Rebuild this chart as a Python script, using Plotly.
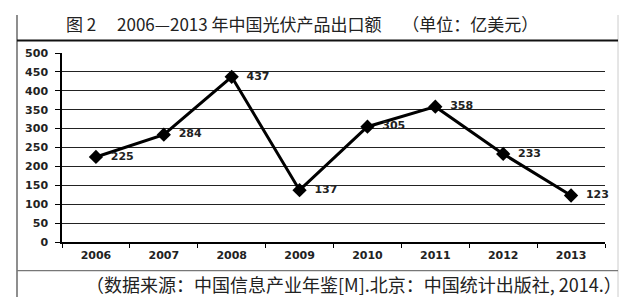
import plotly.graph_objects as go

years = ["2006", "2007", "2008", "2009", "2010", "2011", "2012", "2013"]
values = [225, 284, 437, 137, 305, 358, 233, 123]
y_ticks = [0, 50, 100, 150, 200, 250, 300, 350, 400, 450, 500]
title_text = "图 2\u2003 2006—2013 年中国光伏产品出口额 \u2003（单位：亿美元）"
source_text = "（数据来源：中国信息产业年鉴[M].北京：中国统计出版社, 2014.）"

W, H = 640, 297
L, R, T, B = 62, 35, 53, 55
pw, ph = W - L - R, H - T - B

def px(x):
    return (x - L) / pw

def py(y):
    return (H - B - y) / ph

fig = go.Figure()
fig.add_trace(go.Scatter(
    x=years, y=values, mode="lines+markers+text",
    line=dict(color="black", width=3),
    marker=dict(symbol="diamond", size=11, color="black"),
    text=[str(v) for v in values], textposition="middle right",
    textfont=dict(family="DejaVu Sans", size=11, color="#222"),
    texttemplate="\u00a0\u00a0<b>%{text}</b>",
    cliponaxis=False,
))

fig.update_layout(
    width=W, height=H, margin=dict(l=L, r=R, t=T, b=B),
    paper_bgcolor="white", plot_bgcolor="white", showlegend=False,
    xaxis=dict(type="category", range=[-0.5, 7.5], showgrid=False,
               showline=True, linecolor="black", linewidth=1.5,
               ticks="outside", tickson="boundaries", ticklen=4, tickcolor="black",
               tickfont=dict(family="DejaVu Sans", size=11, color="#222"),
               tickvals=years, ticktext=["<b>%s</b>" % y for y in years],
               ticklabelstandoff=2),
    yaxis=dict(range=[0, 500], tickmode="array", tickvals=y_ticks,
               ticktext=["<b>%d</b>" % v for v in y_ticks], showgrid=True,
               gridcolor="#222", gridwidth=1.3,
               showline=True, linecolor="black", linewidth=1.5,
               ticks="outside", ticklen=5, tickcolor="black",
               tickfont=dict(family="DejaVu Sans", size=11, color="#222"),
               ticklabelstandoff=5, zeroline=False),
)

shapes = [
    dict(type="line", xref="paper", yref="paper", x0=px(17), x1=px(17), y0=py(15), y1=py(297),
         line=dict(color="#444", width=1.2)),
    dict(type="line", xref="paper", yref="paper", x0=px(618), x1=px(618), y0=py(15), y1=py(297),
         line=dict(color="#ccc", width=1)),
    dict(type="line", xref="paper", yref="paper", x0=px(17), x1=px(618), y0=py(40.6), y1=py(40.6),
         line=dict(color="#111", width=2)),
    dict(type="line", xref="paper", yref="paper", x0=px(17), x1=px(618), y0=py(270.6), y1=py(270.6),
         line=dict(color="#777", width=1.3)),
]
fig.update_layout(shapes=shapes)

fig.add_annotation(text=title_text, xref="paper", yref="paper", x=px(302), y=py(24),
                   showarrow=False, xanchor="center", yanchor="middle",
                   font=dict(family="Noto Sans CJK SC", size=17, color="#222"))
fig.add_annotation(text=source_text, xref="paper", yref="paper", x=px(624), y=py(284),
                   showarrow=False, xanchor="right", yanchor="middle",
                   font=dict(family="Noto Sans CJK SC", size=18, color="#222"))

fig.write_html("out.html")
